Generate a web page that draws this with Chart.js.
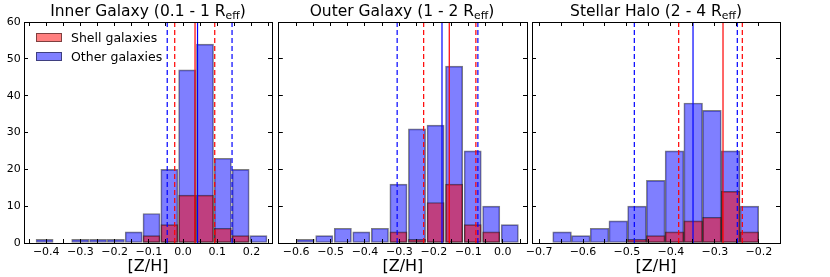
<!DOCTYPE html>
<html>
<head>
<meta charset="utf-8">
<script src="https://cdn.jsdelivr.net/npm/chart.js@4.4.1/dist/chart.umd.min.js"></script>
<style>
  body { margin: 0; background: #fff; }
  #wrap { position: relative; width: 830px; height: 277px; font-family: 'DejaVu Sans', sans-serif; color: #000; }
  canvas { position: absolute; top: 0; }
  .title { position: absolute; top: 4px; font-size: 15.5px; line-height: 15.5px; white-space: nowrap; transform: translateX(-50%); }
  .title sub { font-size: 0.7em; vertical-align: -0.3em; line-height: 0; }
  #legend { position: absolute; left: 36px; top: 28px; font-size: 12.5px; z-index: 2; }
  .item { display: flex; align-items: center; height: 19px; }
  .patch { width: 26px; height: 9px; box-sizing: border-box; border: 1px solid rgba(0,0,0,0.5); margin-right: 9px; }
</style>
</head>
<body>
<div id="wrap">
  <canvas id="c1" width="276" height="277" style="left:0px"></canvas>
  <canvas id="c2" width="254" height="277" style="left:276px"></canvas>
  <canvas id="c3" width="330" height="277" style="left:500px"></canvas>
  <div class="title" style="left:148px">Inner Galaxy (0.1 - 1 R<sub>eff</sub>)</div>
  <div class="title" style="left:402px">Outer Galaxy (1 - 2 R<sub>eff</sub>)</div>
  <div class="title" style="left:656px">Stellar Halo (2 - 4 R<sub>eff</sub>)</div>
  <div id="legend">
    <div class="item"><span class="patch" style="background:rgba(255,0,0,0.5)"></span>Shell galaxies</div>
    <div class="item"><span class="patch" style="background:rgba(0,0,255,0.5)"></span>Other galaxies</div>
  </div>
</div>
<script>
// ============================================================
// DATA
// ============================================================
const yTicks = [0, 10, 20, 30, 40, 50, 60];

// Inner Galaxy (0.1 - 1 Reff)
const binCenters1 = [-0.4048, -0.3527, -0.3006, -0.2485, -0.1964, -0.1443, -0.0922, -0.0401, 0.0120, 0.0641, 0.1162, 0.1683, 0.2204];
const otherCounts1 = [1, 0, 1, 1, 1, 3, 8, 20, 47, 54, 23, 20, 2];
const shellCounts1 = [0, 0, 0, 0, 0, 0, 2, 5, 13, 13, 4, 2, 0];
const shellMean1 = 0.035;
const otherMean1 = 0.0423;
const shellRange1 = [-0.0244, 0.0926];
const otherRange1 = [-0.0463, 0.1432];
const xTicks1 = [-0.4, -0.3, -0.2, -0.1, 0.0, 0.1, 0.2];
const xMarks1 = [-0.45, -0.4, -0.35, -0.3, -0.25, -0.2, -0.15, -0.1, -0.05, 0.0, 0.05, 0.1, 0.15, 0.2, 0.25];

// Outer Galaxy (1 - 2 Reff)
const binCenters2 = [-0.5719, -0.5181, -0.4643, -0.4105, -0.3567, -0.3029, -0.2491, -0.1952, -0.1414, -0.0876, -0.0338, 0.0200];
const otherCounts2 = [1, 2, 4, 3, 4, 16, 31, 32, 48, 25, 10, 5];
const shellCounts2 = [0, 0, 0, 0, 0, 3, 1, 11, 16, 5, 3, 0];
const shellMean2 = -0.1555;
const otherMean2 = -0.1766;
const shellRange2 = [-0.2298, -0.0783];
const otherRange2 = [-0.3067, -0.0725];
const xTicks2 = [-0.6, -0.5, -0.4, -0.3, -0.2, -0.1, 0.0];
const xMarks2 = [-0.65, -0.6, -0.55, -0.5, -0.45, -0.4, -0.35, -0.3, -0.25, -0.2, -0.15, -0.1, -0.05, 0.0, 0.05];

// Stellar Halo (2 - 4 Reff)
const binCenters3 = [-0.6476, -0.6050, -0.5624, -0.5198, -0.4772, -0.4346, -0.3920, -0.3494, -0.3068, -0.2643, -0.2217];
const otherCounts3 = [3, 2, 4, 6, 10, 17, 25, 38, 36, 25, 10];
const shellCounts3 = [0, 0, 0, 0, 1, 2, 3, 6, 7, 14, 3];
const shellMean3 = -0.2816;
const otherMean3 = -0.3498;
const shellRange3 = [-0.3824, -0.2377];
const otherRange3 = [-0.4833, -0.2491];
const xTicks3 = [-0.7, -0.6, -0.5, -0.4, -0.3, -0.2];
const xMarks3 = [-0.7, -0.65, -0.6, -0.55, -0.5, -0.45, -0.4, -0.35, -0.3, -0.25, -0.2, -0.15];

// ============================================================
// HELPERS
// ============================================================
Chart.defaults.font.family = "'DejaVu Sans', sans-serif";
Chart.defaults.color = '#000';

const RED = '#ff0000';
const BLUE = '#0000ff';

function barData(centers, counts) {
  return centers.map((x, i) => ({ x: x, y: counts[i] === 0 ? null : counts[i] }));
}

function vline(x, color, dashed) {
  const top = yTicks[yTicks.length - 1];
  return {
    type: 'line',
    data: [{ x: x, y: 0 }, { x: x, y: top }],
    borderColor: color,
    borderWidth: 1.2,
    borderDash: dashed ? [5, 3] : [],
    pointRadius: 0,
    fill: false,
    order: 0
  };
}

function fmtTick(v) {
  return (v < 0 ? '\u2212' : '') + Math.abs(v).toFixed(1);
}

function makeScales(p) {
  const grid = { drawOnChartArea: false, drawTicks: true, tickLength: -4, color: '#000', offset: false, z: 1 };
  const border = { display: true, color: '#000', width: 1, z: 1 };
  const labelSet = s => { s.ticks = p.xTicks.map(v => ({ value: v })); };
  const markSet = s => { s.ticks = p.xMarks.map(v => ({ value: v })); };
  const ySet = s => { s.ticks = yTicks.map(v => ({ value: v })); };
  const yMax = yTicks[yTicks.length - 1];
  return {
    // marks every 0.05 along the bottom (own axis so bar widths stay on bin spacing)
    x3: {
      type: 'linear', axis: 'x', position: 'bottom', weight: 0, min: p.xMin, max: p.xMax, offset: false,
      grid: grid, border: border,
      afterBuildTicks: markSet,
      afterFit: s => { s.height = 0; },
      ticks: { display: false, autoSkip: false }
    },
    x: {
      type: 'linear', position: 'bottom', weight: 1, min: p.xMin, max: p.xMax, offset: false,
      grid: grid, border: border,
      afterBuildTicks: labelSet,
      afterFit: s => { s.height = 34; },
      ticks: { autoSkip: false, maxRotation: 0, minRotation: 0, padding: 6.5, font: { size: 11 }, callback: fmtTick },
      title: { display: true, text: '[Z/H]', font: { size: 16 }, padding: { top: 0, bottom: 0.5 } }
    },
    x2: {
      type: 'linear', axis: 'x', position: 'top', min: p.xMin, max: p.xMax, offset: false,
      grid: grid, border: border,
      afterBuildTicks: markSet,
      afterFit: s => { s.height = 0; },
      ticks: { display: false, autoSkip: false }
    },
    y: {
      type: 'linear', position: 'left', min: 0, max: yMax,
      grid: grid, border: border,
      afterBuildTicks: ySet,
      afterFit: s => { s.width = p.yWidth; },
      ticks: { display: p.showY, padding: 7.3, font: { size: 11 } }
    },
    y2: {
      type: 'linear', axis: 'y', position: 'right', min: 0, max: yMax,
      grid: grid, border: border,
      afterBuildTicks: ySet,
      afterFit: s => { s.width = 0; },
      ticks: { display: false }
    }
  };
}

// ============================================================
// PANEL
// ============================================================
function renderPanel(id, p) {
  const ctx = document.getElementById(id).getContext('2d');
  return new Chart(ctx, {
    type: 'bar',
    data: {
      datasets: [
        {
          label: 'Shell galaxies',
          data: barData(p.centers, p.shell),
          backgroundColor: 'rgba(255,0,0,0.5)',
          borderColor: 'rgba(0,0,0,0.5)',
          borderWidth: 1,
          order: 1
        },
        {
          label: 'Other galaxies',
          data: barData(p.centers, p.other),
          backgroundColor: 'rgba(0,0,255,0.5)',
          borderColor: 'rgba(0,0,0,0.5)',
          borderWidth: 1,
          order: 2
        },
        vline(p.otherRange[0], BLUE, true),
        vline(p.otherRange[1], BLUE, true),
        vline(p.shellRange[0], RED, true),
        vline(p.shellRange[1], RED, true),
        vline(p.otherMean, BLUE, false),
        vline(p.shellMean, RED, false)
      ]
    },
    options: {
      responsive: false,
      animation: false,
      events: [],
      datasets: {
        bar: { barPercentage: 1, categoryPercentage: 1, grouped: false, borderSkipped: false }
      },
      layout: { padding: { left: 0, right: p.padRight, top: 22, bottom: 0 } },
      plugins: { legend: { display: false }, tooltip: { enabled: false } },
      scales: makeScales(p)
    }
  });
}

renderPanel('c1', {
  centers: binCenters1, other: otherCounts1, shell: shellCounts1,
  otherMean: otherMean1, shellMean: shellMean1, otherRange: otherRange1, shellRange: shellRange1,
  xTicks: xTicks1, xMarks: xMarks1, xMin: -0.465, xMax: 0.26, yWidth: 24, padRight: 4, showY: true
});

renderPanel('c2', {
  centers: binCenters2, other: otherCounts2, shell: shellCounts2,
  otherMean: otherMean2, shellMean: shellMean2, otherRange: otherRange2, shellRange: shellRange2,
  xTicks: xTicks2, xMarks: xMarks2, xMin: -0.65, xMax: 0.07, yWidth: 2, padRight: 3, showY: false
});

renderPanel('c3', {
  centers: binCenters3, other: otherCounts3, shell: shellCounts3,
  otherMean: otherMean3, shellMean: shellMean3, otherRange: otherRange3, shellRange: shellRange3,
  xTicks: xTicks3, xMarks: xMarks3, xMin: -0.716, xMax: -0.152, yWidth: 32, padRight: 50, showY: false
});
</script>
</body>
</html>
